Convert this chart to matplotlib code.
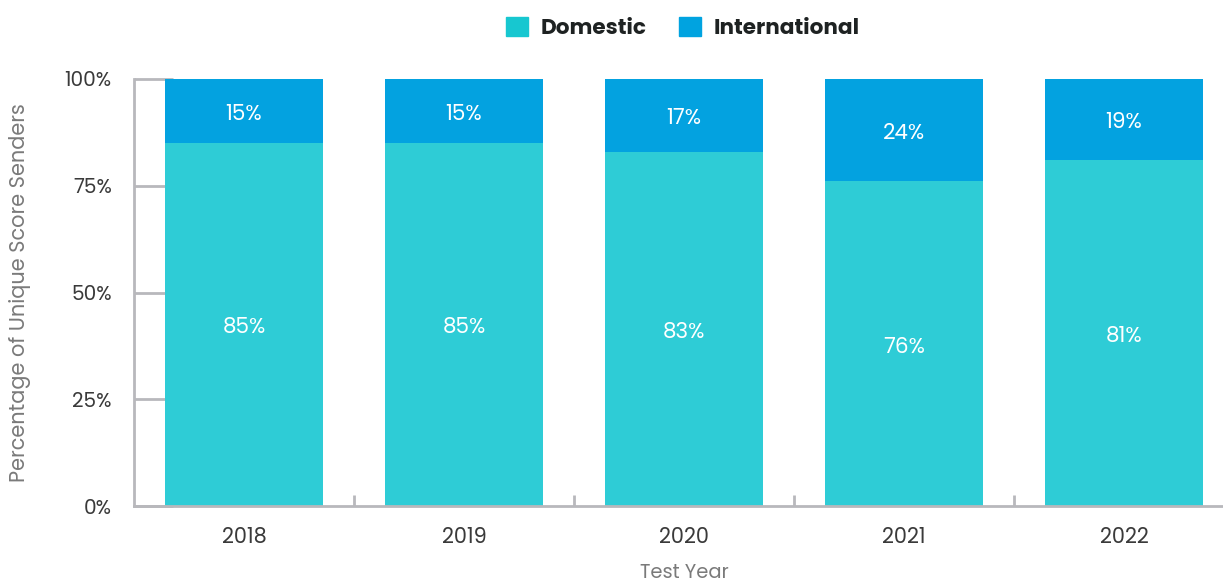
import matplotlib.pyplot as plt
import numpy as np
from matplotlib.patches import Patch

years = ["2018", "2019", "2020", "2021", "2022"]
domestic = [85, 85, 83, 76, 81]
international = [15, 15, 17, 24, 19]

DOM_COLOR = "#2ECCD6"
INT_COLOR = "#03A2E0"
AXIS_GRAY = "#B8B8BC"

plt.rcParams["font.family"] = ["Poppins", "Lato", "DejaVu Sans"]

fig = plt.figure(figsize=(12.23, 5.84), dpi=100)
W, H = 1223, 584
# axes spans one full category band per year; right edge runs past the canvas
ax = fig.add_axes([134 / W, (H - 506) / H, 1100 / W, 427 / H])

x = np.arange(len(years))
ax.bar(x, domestic, width=0.72, color=DOM_COLOR, zorder=2)
ax.bar(x, international, width=0.72, bottom=domestic, color=INT_COLOR, zorder=2)

for i in range(len(years)):
    ax.text(x[i], domestic[i] / 2 - 0.9, f"{domestic[i]}%", ha="center", va="center",
            color="white", fontsize=15.5)
    ax.text(x[i], domestic[i] + international[i] / 2 - 0.9, f"{international[i]}%",
            ha="center", va="center", color="white", fontsize=15.5)

ax.set_xlim(-0.5, len(years) - 0.5)
ax.set_ylim(0, 100)

ax.set_yticks([0, 25, 50, 75, 100])
ax.set_yticklabels(["0%", "25%", "50%", "75%", "100%"])
ax.tick_params(axis="y", direction="in", length=28, width=2, color=AXIS_GRAY,
               labelsize=14.5, labelcolor="#3A3A3A", pad=16)

ax.set_xticks(x)
ax.set_xticklabels(years)
ax.tick_params(axis="x", length=0, labelsize=15, labelcolor="#3A3A3A", pad=15)
# small separators between categories
ax.set_xticks(x[:-1] + 0.5, minor=True)
ax.tick_params(axis="x", which="minor", direction="in", length=8, width=2, color=AXIS_GRAY)

for side in ["top", "right"]:
    ax.spines[side].set_visible(False)
for side in ["left", "bottom"]:
    ax.spines[side].set_color(AXIS_GRAY)
    ax.spines[side].set_linewidth(2)

ax.set_ylabel("Percentage of Unique Score Senders", fontsize=15, color="#7A7A7A", labelpad=24)
ax.set_xlabel("Test Year", fontsize=14, color="#7A7A7A", labelpad=10)

handles = [Patch(color="#17C7D0"), Patch(color="#00A3E0")]
leg = fig.legend(handles=handles, labels=["Domestic", "International"], loc="upper center",
                 bbox_to_anchor=(683 / W, 1.0), ncol=2, frameon=False,
                 prop={"weight": "bold", "size": 15.5}, handlelength=1.0, handleheight=1.0,
                 columnspacing=1.5, handletextpad=0.6, borderaxespad=0.4)
for t in leg.get_texts():
    t.set_color("#1E2222")

fig.savefig("out.png", dpi=100)
